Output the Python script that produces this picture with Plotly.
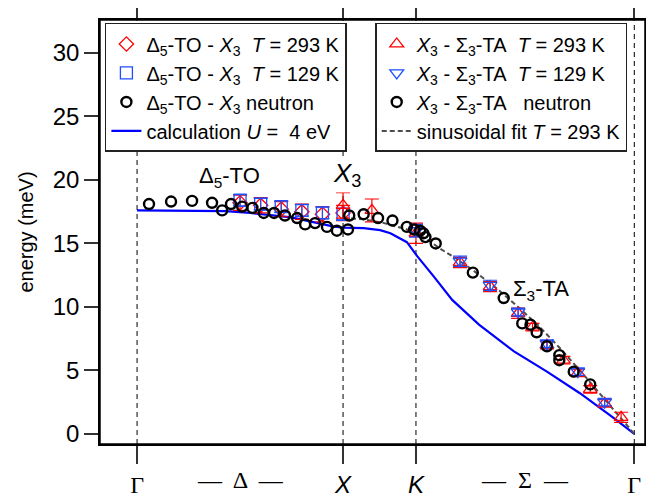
import plotly.graph_objects as go

# ---------------- data ----------------
# high-symmetry path positions (units of 2pi/a): Gamma - X - K - Gamma
sym_pos = [0.0, 1.0, 1.354, 2.414]
sym_text = ['<span style="font-family:Liberation Serif">Γ</span>', '<i>X</i>', '<i>K</i>',
            '<span style="font-family:Liberation Serif">Γ</span>']

# Delta5-TO - X3, T = 293 K (red diamonds)
d293_x = [0.50, 0.60, 0.70, 0.80, 0.90, 1.00]
d293_y = [18.2, 18.0, 17.7, 17.5, 17.3, 17.4]
d293_e = [0.6, 0.6, 0.6, 0.6, 0.6, 0.6]

# Delta5-TO - X3, T = 129 K (blue squares)
d129_x = [0.50, 0.60, 0.70, 0.80, 0.90, 1.00]
d129_y = [18.4, 18.1, 17.9, 17.6, 17.4, 17.3]
d129_e = [0.45, 0.45, 0.45, 0.45, 0.45, 0.45]

# Delta5-TO - X3 neutron (black circles)
dn_x = [0.058, 0.165, 0.267, 0.364, 0.413, 0.456, 0.51, 0.56, 0.615, 0.665,
        0.718, 0.777, 0.816, 0.864, 0.922, 0.97]
dn_y = [18.1, 18.3, 18.35, 18.2, 17.6, 18.1, 17.9, 17.8, 17.4, 17.4,
        17.2, 17.0, 16.5, 16.6, 16.3, 16.0]

# X3 - Sigma3-TA, T = 293 K (red up triangles)
s293_x = [1.0, 1.14, 1.354, 1.568, 1.714, 1.85, 1.92, 1.99, 2.07, 2.14, 2.20, 2.27, 2.35]
s293_y = [18.0, 17.6, 15.8, 13.5, 11.6, 9.5, 8.4, 7.0, 5.8, 4.8, 3.5, 2.4, 1.3]
s293_e = [1.0, 0.9, 0.8, 0.4, 0.4, 0.4, 0.3, 0.3, 0.3, 0.3, 0.3, 0.3, 0.4]

# X3 - Sigma3-TA, T = 129 K (blue down triangles)
s129_x = [1.354, 1.568, 1.714, 1.85, 1.99, 2.14, 2.27]
s129_y = [16.0, 13.6, 11.7, 9.6, 7.1, 4.9, 2.5]
s129_e = [0.5, 0.4, 0.4, 0.3, 0.3, 0.3, 0.3]

# X3 - Sigma3-TA neutron (black circles)
sn_x = [1.024, 1.03, 1.10, 1.17, 1.24, 1.31, 1.345, 1.374, 1.39, 1.40, 1.45,
        1.63, 1.78, 1.87, 1.91, 1.94, 1.99, 2.05, 2.05, 2.12, 2.20]
sn_y = [16.1, 17.2, 17.3, 17.0, 16.8, 16.3, 16.1, 16.0, 15.8, 15.5, 15.0,
        12.7, 10.7, 8.7, 8.6, 8.0, 6.9, 6.2, 5.8, 4.9, 3.9]

# calculation U = 4 eV (blue line)
calc_x = [0.0, 0.3, 0.43, 0.55, 0.65, 0.75, 0.85, 0.95, 1.0, 1.1, 1.18, 1.23, 1.31,
          1.36, 1.44, 1.53, 1.66, 1.83, 1.99, 2.15, 2.31, 2.414]
calc_y = [17.6, 17.6, 17.55, 17.4, 17.25, 17.05, 16.7, 16.35, 16.25, 16.2, 16.05, 15.8, 15.1,
          14.0, 12.4, 10.55, 8.6, 6.5, 4.9, 3.2, 1.3, 0.0]

# sinusoidal fit T = 293 K (gray dashed)
fit_x = [1.0, 1.1, 1.2, 1.31, 1.4, 1.47, 1.55, 1.63, 1.75, 1.85, 1.95, 2.05, 2.15, 2.25, 2.35, 2.414]
fit_y = [17.0, 16.9, 16.6, 16.1, 15.4, 14.6, 13.8, 12.9, 11.4, 10.0, 8.5, 6.8, 5.0, 3.1, 1.2, 0.0]

y_ticks = [0, 5, 10, 15, 20, 25, 30]

# ---------------- figure ----------------
FONT = "Liberation Sans, Arial, sans-serif"
SERIF = "Liberation Serif, serif"
RED = "#ff0000"
BLUE = "#1f4fff"
NB = "\u00a0"

fig = go.Figure()

fig.add_trace(go.Scatter(x=calc_x, y=calc_y, mode="lines",
                         line=dict(color="#0000ff", width=2.2),
                         name=f"calculation <i>U</i> ={NB}{NB}4 eV",
                         legend="legend", legendrank=4))
fig.add_trace(go.Scatter(x=fit_x, y=fit_y, mode="lines",
                         line=dict(color="#4d4d4d", width=2, dash="5px,3px"),
                         name=f"sinusoidal fit <i>T</i> = 293 K",
                         legend="legend2", legendrank=8))

fig.add_trace(go.Scatter(x=d293_x, y=d293_y, mode="markers",
                         marker=dict(symbol="diamond-open", size=11, color=RED, line=dict(width=1.3)),
                         error_y=dict(type="data", array=d293_e, color=RED, thickness=1.2, width=7),
                         name=f"Δ<sub>5</sub>-TO - <i>X</i><sub>3</sub>{NB}{NB}<i>T</i> = 293 K",
                         legend="legend", legendrank=1))
fig.add_trace(go.Scatter(x=d129_x, y=d129_y, mode="markers",
                         marker=dict(symbol="square-open", size=12, color=BLUE, line=dict(width=1.3)),
                         error_y=dict(type="data", array=d129_e, color=BLUE, thickness=1.2, width=7),
                         name=f"Δ<sub>5</sub>-TO - <i>X</i><sub>3</sub>{NB}{NB}<i>T</i> = 129 K",
                         legend="legend", legendrank=2))
fig.add_trace(go.Scatter(x=s293_x, y=s293_y, mode="markers",
                         marker=dict(symbol="triangle-up-open", size=12, color=RED, line=dict(width=1.3)),
                         error_y=dict(type="data", array=s293_e, color=RED, thickness=1.2, width=7),
                         name=f"<i>X</i><sub>3</sub> - Σ<sub>3</sub>-TA{NB}{NB}<i>T</i> = 293 K",
                         legend="legend2", legendrank=5))
fig.add_trace(go.Scatter(x=s129_x, y=s129_y, mode="markers",
                         marker=dict(symbol="triangle-down-open", size=12, color=BLUE, line=dict(width=1.3)),
                         error_y=dict(type="data", array=s129_e, color=BLUE, thickness=1.2, width=7),
                         name=f"<i>X</i><sub>3</sub> - Σ<sub>3</sub>-TA{NB}{NB}<i>T</i> = 129 K",
                         legend="legend2", legendrank=6))
fig.add_trace(go.Scatter(x=dn_x, y=dn_y, mode="markers",
                         marker=dict(symbol="circle-open", size=10, color="black", line=dict(width=2.4)),
                         name=f"Δ<sub>5</sub>-TO - <i>X</i><sub>3</sub> neutron",
                         legend="legend", legendrank=3))
fig.add_trace(go.Scatter(x=sn_x, y=sn_y, mode="markers",
                         marker=dict(symbol="circle-open", size=10, color="black", line=dict(width=2.4)),
                         name=f"<i>X</i><sub>3</sub> - Σ<sub>3</sub>-TA{NB}{NB}{NB}neutron",
                         legend="legend2", legendrank=7))

# dashed vertical lines at high-symmetry points
for xp in sym_pos:
    fig.add_shape(type="line", xref="x", yref="paper", x0=xp, x1=xp, y0=0, y1=1,
                  line=dict(color="black", width=1, dash="5px,4px"), layer="below")
# plot frame
fig.add_shape(type="rect", xref="paper", yref="paper", x0=0, x1=1, y0=0, y1=1,
              line=dict(color="black", width=1.5), layer="above")

annotations = [
    dict(x=0.45, y=20.2, xref="x", yref="y", text="Δ<sub>5</sub>-TO", showarrow=False,
         font=dict(size=22, family=FONT, color="black"), yanchor="middle"),
    dict(x=1.02, y=20.4, xref="x", yref="y", text="<i>X</i><sub>3</sub>", showarrow=False,
         font=dict(size=26, family=FONT, color="black"), bgcolor="white", yanchor="middle"),
    dict(x=1.96, y=11.3, xref="x", yref="y", text="Σ<sub>3</sub>-TA", showarrow=False,
         font=dict(size=22, family=FONT, color="black"), yanchor="middle"),
    dict(x=0.5, y=-0.085, xref="x", yref="paper", text="—  Δ  —", showarrow=False,
         font=dict(size=24, family=SERIF, color="black"), yanchor="middle"),
    dict(x=1.884, y=-0.085, xref="x", yref="paper", text="—  Σ  —", showarrow=False,
         font=dict(size=24, family=SERIF, color="black"), yanchor="middle"),
]

legend_common = dict(bgcolor="white", bordercolor="#222222", borderwidth=1.5,
                     font=dict(size=20, family=FONT, color="black"),
                     xanchor="left", yanchor="top", traceorder="normal")

# the page adds an 8 px body margin, so the figure is sized/margined to compensate
fig.update_layout(
    width=646, height=492,
    margin=dict(l=92, r=9, t=12, b=56),
    plot_bgcolor="white", paper_bgcolor="white",
    font=dict(family=FONT, color="black"),
    showlegend=True,
    legend=dict(x=0.009, y=0.993, **legend_common),
    legend2=dict(x=0.505, y=0.993, **legend_common),
    annotations=annotations,
    xaxis=dict(range=[-0.18, 2.466], tickmode="array", tickvals=sym_pos, ticktext=sym_text,
               ticks="outside", ticklen=18, tickwidth=1.5, tickcolor="#333333",
               showline=True, linecolor="black", linewidth=1.5, mirror="ticks",
               showgrid=False, zeroline=False, automargin=False,
               tickfont=dict(size=24, family=FONT, color="black")),
    yaxis=dict(range=[-0.8, 32.6], tickmode="array", tickvals=y_ticks,
               ticks="outside", ticklen=14, tickwidth=1.5, tickcolor="#333333",
               showline=True, linecolor="black", linewidth=1.5, mirror="ticks",
               showgrid=False, zeroline=False, automargin=False,
               tickfont=dict(size=24, family=FONT, color="black"),
               title=dict(text="energy (meV)", font=dict(size=20, family=FONT, color="black"),
                          standoff=14)),
)

fig.write_html("out.html")
